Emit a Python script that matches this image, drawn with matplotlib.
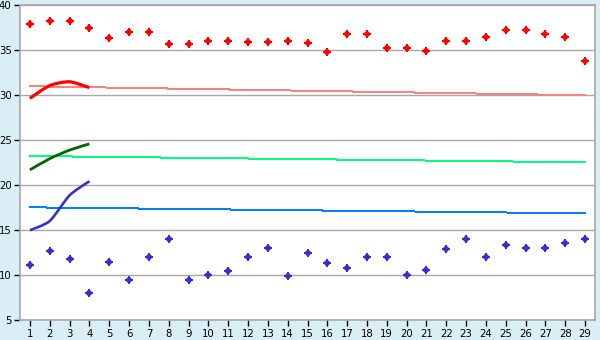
import matplotlib
matplotlib.use("Agg")
import matplotlib.pyplot as plt
from matplotlib.path import Path
from matplotlib.patches import PathPatch
import numpy as np

days = list(range(1, 30))
red_points = [37.85, 38.2, 38.2, 37.4, 36.3, 36.95, 36.95, 35.65, 35.65, 36.05,
              36.05, 35.85, 35.85, 35.95, 35.75, 34.75, 36.75, 36.75, 35.2, 35.2,
              34.85, 35.95, 35.95, 36.4, 37.2, 37.2, 36.75, 36.5, 33.75]
blue_points = [11.15, 12.65, 11.75, 8.05, 11.4, 9.5, 11.95, 14.05, 9.4, 10.0,
               10.5, 11.95, 12.95, 9.85, 12.4, 11.3, 10.75, 12.05, 11.95, 10.0,
               10.6, 12.85, 14.05, 11.95, 13.3, 12.95, 12.95, 13.55, 14.05]

line_x = [1, 2, 3, 4]
red_line = [29.63, 31.05, 31.47, 30.82]
green_line = [21.68, 22.93, 23.88, 24.57]
blue_line = [14.97, 16.0, 18.85, 20.42]

trend_x = [1, 29]
red_trend = [30.97, 29.97]
green_trend = [23.22, 22.52]
blue_trend = [17.52, 16.85]

y_ticks = [5, 10, 15, 20, 25, 30, 35, 40]

BG = "#DAEEF6"
fig = plt.figure(figsize=(6, 3.4), dpi=100, facecolor=BG)
ax = fig.add_axes([20 / 600, 20 / 340, 575 / 600, 315 / 340])
ax.set_facecolor("white")


def smooth_path(xs, ys, k=0.12):
    pts = np.column_stack([xs, ys]).astype(float)
    n = len(pts)
    verts = [pts[0]]
    codes = [Path.MOVETO]
    for i in range(n - 1):
        p0 = pts[i - 1] if i > 0 else pts[i]
        p1 = pts[i]
        p2 = pts[i + 1]
        p3 = pts[i + 2] if i + 2 < n else pts[i + 1]
        c1 = p1 + (p2 - p0) * k
        c2 = p2 - (p3 - p1) * k
        verts += [c1, c2, p2]
        codes += [Path.CURVE4] * 3
    return Path(verts, codes)


for ys, col in [(red_trend, "#FF8080"), (green_trend, "#00FF80"), (blue_trend, "#0080FF")]:
    ax.plot(trend_x, ys, color=col, lw=0.72, antialiased=False, zorder=3)

for ys, col, lw in [(red_line, "#FF0000", 2.3), (green_line, "#006600", 2.0), (blue_line, "#3333CC", 1.9)]:
    ax.add_patch(PathPatch(smooth_path(line_x, ys), facecolor="none", edgecolor=col,
                           lw=lw, zorder=4, capstyle="butt"))

for ys, col in [(red_points, "#FF0000"), (blue_points, "#3333CC")]:
    ax.plot(days, ys, linestyle="none", marker="D", markersize=3.6,
            color=col, markeredgewidth=0, zorder=5)
    ax.plot(days, ys, linestyle="none", marker="P", markersize=6.2,
            color=col, markeredgewidth=0, zorder=5)

ax.set_xlim(0.5, 29.5)
ax.set_ylim(5, 40)
ax.set_xticks(days)
ax.set_xticklabels([str(d) for d in days])
ax.set_yticks(y_ticks)
ax.yaxis.grid(True, color="#A8A8A8", lw=1.0)
ax.set_axisbelow(True)

for s in ax.spines.values():
    s.set_color("#A8A8A8")
    s.set_linewidth(1.2)

ax.tick_params(axis="both", direction="out", length=4.5, width=1.0, color="#000000",
               labelsize=7.3, labelcolor="black", pad=2)
ax.tick_params(axis="y", pad=1.5)

fig.savefig("out.png", dpi=100, facecolor=BG)
